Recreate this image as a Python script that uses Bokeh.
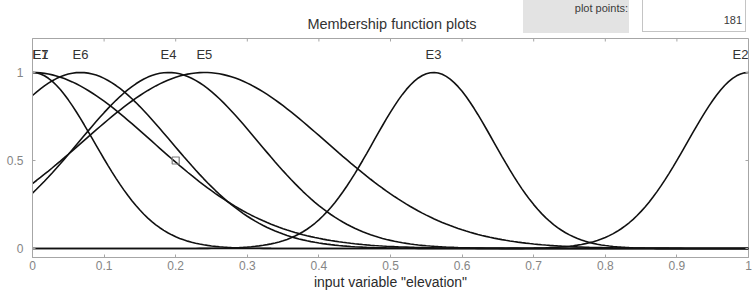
import numpy as np
from bokeh.plotting import figure
from bokeh.layouts import column
from bokeh.models import Label, FixedTicker, Range1d, Div
from bokeh.embed import file_html
from bokeh.resources import INLINE

# ---- data (Gaussian membership functions) ----
mf_names = ["E1", "E2", "E3", "E4", "E5", "E6", "E7"]
mf_centers = [0.0, 1.0, 0.56, 0.19, 0.24, 0.067, 0.0]
mf_sigmas = [0.086, 0.085, 0.084, 0.125, 0.17, 0.1265, 0.1675]
plot_points = 181
x_ticks = [0, 0.1, 0.2, 0.3, 0.4, 0.5, 0.6, 0.7, 0.8, 0.9, 1]
x_tick_labels = ["0", "0.1", "0.2", "0.3", "0.4", "0.5", "0.6", "0.7", "0.8", "0.9", "1"]
y_ticks = [0, 0.5, 1]
y_tick_labels = ["0", "0.5", "1"]
marker_x = [0.2]
marker_y = [0.5]
title_text = "Membership function plots"
points_label = "plot points:"
x_label = 'input variable "elevation"'

FONT = "Liberation Sans"
AX = "#a6a6a6"
Y0, Y1 = -0.0511, 1.193

# ---- header strip (GUI title and "plot points" field) ----
header_html = f"""
<div style="position:relative;width:752px;height:34px;overflow:hidden;font-family:'Liberation Sans',Arial,sans-serif;">
  <div style="position:absolute;left:523px;top:0px;width:106px;height:33px;background:#e3e3e3;"></div>
  <div style="position:absolute;left:523px;top:1px;width:105px;text-align:right;font-size:11px;line-height:14px;color:#3a3a3a;">{points_label}</div>
  <div style="position:absolute;left:642px;top:-1px;width:104px;height:33px;background:#ffffff;border-left:1px solid #c4c4c4;border-right:1px solid #c4c4c4;border-bottom:1px solid #c4c4c4;"></div>
  <div style="position:absolute;left:642px;top:13px;width:100px;text-align:right;font-size:11px;line-height:14px;color:#3a3a3a;">{plot_points}</div>
  <div style="position:absolute;left:242px;top:16px;width:300px;text-align:center;font-size:14.5px;line-height:17px;color:#333333;">{title_text}</div>
</div>
"""
header = Div(text=header_html, width=752, height=34, margin=0)

fig = figure(width=752, height=260, x_range=Range1d(0, 1), y_range=Range1d(Y0, Y1),
             output_backend="svg", toolbar_location=None,
             min_border_left=32, min_border_right=4, min_border_top=4, min_border_bottom=37)
fig.xgrid.visible = False
fig.ygrid.visible = False
fig.outline_line_color = AX
fig.background_fill_color = "white"
fig.border_fill_color = "white"

xs = np.linspace(0, 1, plot_points)
for name, c, s in zip(mf_names, mf_centers, mf_sigmas):
    ys = np.exp(-((xs - c) ** 2) / (2 * s * s))
    fig.line(xs, ys, line_color="#111111", line_width=1.6)

fig.scatter(marker_x, marker_y, marker="square", size=7, fill_color=None,
            line_color="#7a7a7a", line_width=1.2)

for ax in (fig.xaxis[0], fig.yaxis[0]):
    ax.axis_line_color = AX
    ax.major_tick_line_color = AX
    ax.minor_tick_line_color = None
    ax.major_tick_in = 3
    ax.major_tick_out = 0
    ax.major_label_text_font = FONT
    ax.major_label_text_color = "#858585"
    ax.major_label_text_font_size = "12px"

fig.xaxis.ticker = FixedTicker(ticks=x_ticks)
fig.xaxis.major_label_overrides = {t: l for t, l in zip(x_ticks, x_tick_labels)}
fig.yaxis.ticker = FixedTicker(ticks=y_ticks)
fig.yaxis.major_label_overrides = {t: l for t, l in zip(y_ticks, y_tick_labels)}
fig.xaxis.major_label_standoff = 3
fig.yaxis.major_label_standoff = 9
fig.xaxis.axis_label = x_label
fig.xaxis.axis_label_text_font = FONT
fig.xaxis.axis_label_text_font_style = "normal"
fig.xaxis.axis_label_text_font_size = "14px"
fig.xaxis.axis_label_text_color = "#2b2b2b"
fig.xaxis.axis_label_standoff = 1

# inward ticks on the top and right edges of the box (from the tick lists)
tick_len_y = 3 * (Y1 - Y0) / 219
tick_len_x = 3 / 716
fig.segment(x0=x_ticks, y0=[Y1] * len(x_ticks), x1=x_ticks, y1=[Y1 - tick_len_y] * len(x_ticks),
            line_color=AX, line_width=1)
fig.segment(x0=[1] * len(y_ticks), y0=y_ticks, x1=[1 - tick_len_x] * len(y_ticks), y1=y_ticks,
            line_color=AX, line_width=1)

for name, c in zip(mf_names, mf_centers):
    align = "left" if c <= 0.0 else ("right" if c >= 1.0 else "center")
    fig.add_layout(Label(x=c, y=1.102, text=name, text_align=align, text_baseline="middle",
                         text_font=FONT, text_font_size="13px", text_color="#333333"))

layout = column(header, fig, spacing=0)
open("out.html", "w").write(file_html(layout, INLINE))
